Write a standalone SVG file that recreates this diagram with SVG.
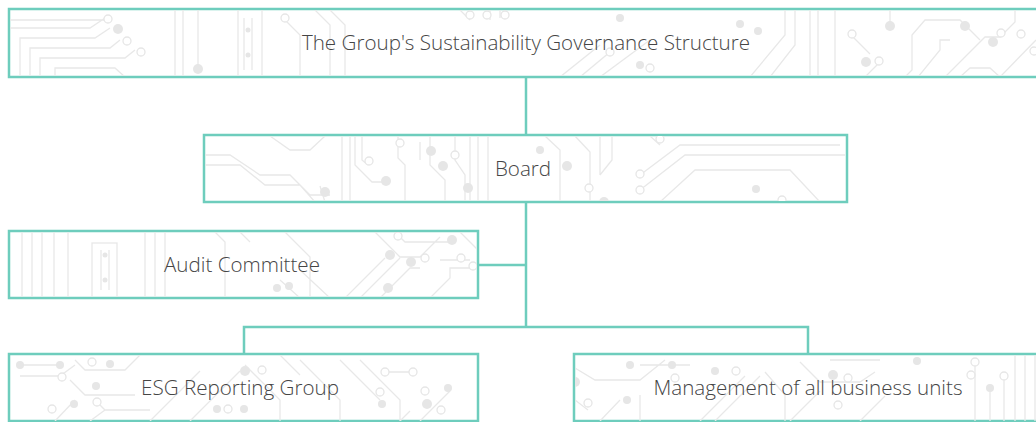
<svg xmlns="http://www.w3.org/2000/svg" width="1036" height="422" viewBox="0 0 1036 422">
<style>
.box{fill:#ffffff;stroke:#6ecdbd;stroke-width:2.5}
.con{fill:none;stroke:#6ecdbd;stroke-width:2.5}
.tr{fill:none;stroke:#e8e8e8;stroke-width:1.3}
.dot{fill:#e6e6e6}
.ring{fill:#ffffff;stroke:#e6e6e6;stroke-width:1.3}
.lbl{font-family:"Open Sans","Liberation Sans",sans-serif;font-weight:300;font-size:20.6px;fill:#454545;text-anchor:middle}
</style>
<defs>
<clipPath id="c1"><rect x="10" y="10" width="1030" height="66"/></clipPath>
<clipPath id="c2"><rect x="205" y="136" width="641" height="65"/></clipPath>
<clipPath id="c3"><rect x="10" y="232" width="467" height="65"/></clipPath>
<clipPath id="c4"><rect x="10" y="355" width="467" height="66"/></clipPath>
<clipPath id="c5"><rect x="575" y="355" width="465" height="66"/></clipPath>
</defs>

<g id="connectors">
<path class="con" d="M526 77 V135"/>
<path class="con" d="M526 202 V327"/>
<path class="con" d="M478 265 H526"/>
<path class="con" d="M244 354 V327 H808 V354"/>
</g>

<g id="node-structure">
<rect class="box" x="9" y="9" width="1040" height="68"/>
<g clip-path="url(#c1)">
<path class="tr" d="M10 20 H100 L110 20 M10 28 H90 L105 18 M20 77 V38 H95 L110 28 M30 77 V48 H110 L120 40 M40 77 V58 H125 L135 50 M55 77 V68 H115 L125 77"/>
<path class="tr" d="M175 10 V77 M183 10 V77 M198 10 V67 M238 10 V77 M262 10 V77"/>
<path class="tr" d="M285 20 L300 35 V77 M315 10 L330 25 V77 M330 10 L345 25 V77"/>
<circle class="ring" cx="108" cy="19" r="4"/><circle class="dot" cx="118" cy="29" r="5"/><circle class="ring" cx="127" cy="41" r="4"/><circle class="ring" cx="141" cy="52" r="4"/>
<circle class="dot" cx="198" cy="69" r="5"/><circle class="ring" cx="285" cy="18" r="4"/>
<path class="tr" d="M244 18 V70 M252 18 V70"/><circle class="dot" cx="248" cy="30" r="2.5"/><circle class="dot" cx="248" cy="55" r="2.5"/>
<path class="tr" d="M460 10 L470 20 M490 10 V20 M500 10 V18"/><circle class="ring" cx="470" cy="15" r="4"/><circle class="ring" cx="487" cy="15" r="4"/><circle class="ring" cx="505" cy="15" r="4"/><circle class="dot" cx="620" cy="18" r="4"/>
<path class="tr" d="M560 77 L600 45 M580 77 L610 52 M600 77 L650 40"/><circle class="ring" cx="610" cy="52" r="4"/><circle class="dot" cx="640" cy="65" r="4"/><circle class="ring" cx="650" cy="68" r="4"/>
<path class="tr" d="M750 77 L785 35 V10 M770 77 L795 45 V10 M810 10 V77 M818 10 V77 M835 10 V77"/>
<circle class="dot" cx="740" cy="24" r="4"/><circle class="dot" cx="758" cy="31" r="4"/>
<path class="tr" d="M852 36 L870 54 M865 77 L880 62"/><circle class="ring" cx="852" cy="34" r="4"/><circle class="dot" cx="866" cy="62" r="5"/><circle class="ring" cx="879" cy="61" r="4"/>
<path class="tr" d="M890 10 V26 M905 77 L912 70 V35 L925 20 H960 L980 40 M918 77 L940 50 V40 H950 M945 77 L985 37 H1000 L1015 22 V10 M1000 77 L1036 40 M960 77 L970 68 H990 L1000 77"/>
<circle class="dot" cx="890" cy="26" r="5"/><circle class="dot" cx="965" cy="26" r="5"/><circle class="ring" cx="1001" cy="33" r="4"/><circle class="dot" cx="993" cy="42" r="5"/><circle class="ring" cx="1021" cy="34" r="4"/><circle class="ring" cx="1034" cy="51" r="4"/>
</g>
<text class="lbl" x="526" y="50">The Group's Sustainability Governance Structure</text>
</g>

<g id="node-board">
<rect class="box" x="204" y="135" width="643" height="67"/>
<g clip-path="url(#c2)">
<path class="tr" d="M205 155 H230 L260 175 H290 L310 195 H330 M205 165 H240 L265 185 H300 L315 202 M270 136 L290 150 H310 L325 136 M320 186 L325 202"/>
<path class="tr" d="M342 136 V202 M350 136 V202 M355 136 V165 L372 182 H385 M362 136 V160 L368 165 M398 136 V158 L405 165 V202 M420 142 V160 M430 136 V165 L445 180 V202 M455 136 V160 L465 175 V202 M470 136 V202 M478 136 V202 M488 136 V202"/>
<circle class="dot" cx="325" cy="192" r="5"/><circle class="dot" cx="386" cy="181" r="5"/><circle class="ring" cx="369" cy="161" r="4"/><circle class="ring" cx="400" cy="143" r="4"/><circle class="dot" cx="431" cy="151" r="5"/><circle class="dot" cx="443" cy="166" r="5"/><circle class="ring" cx="455" cy="155" r="4"/><circle class="dot" cx="468" cy="188" r="5"/>
<path class="tr" d="M545 136 L560 150 V202 M575 136 L590 152 V202 M600 136 V175 M612 136 V160 L600 175"/>
<circle class="dot" cx="540" cy="150" r="4"/><circle class="dot" cx="567" cy="166" r="5"/><circle class="ring" cx="589" cy="188" r="4"/><circle class="dot" cx="604" cy="202" r="5"/>
<path class="tr" d="M640 175 L680 145 H840 M640 190 L685 155 H845 M660 202 L695 170 H790 L820 202 M650 136 L660 145"/>
<circle class="ring" cx="640" cy="174" r="4"/><circle class="ring" cx="640" cy="190" r="4"/><circle class="dot" cx="756" cy="189" r="4"/><circle class="ring" cx="782" cy="200" r="4"/><circle class="ring" cx="660" cy="139" r="4"/>
</g>
<text class="lbl" x="523" y="176">Board</text>
</g>

<g id="node-audit">
<rect class="box" x="9" y="231" width="469" height="67"/>
<g clip-path="url(#c3)">
<path class="tr" d="M22 232 V298 M32 232 V298 M42 232 V298 M54 232 V298 M68 232 V298"/>
<rect class="tr" x="92" y="243" width="25" height="56"/>
<path class="tr" d="M101 250 V290 M109 250 V290"/><circle class="dot" cx="105" cy="255" r="2.5"/><circle class="dot" cx="105" cy="280" r="2.5"/>
<path class="tr" d="M145 232 V298 M155 232 V298 M165 232 V298"/>
<path class="tr" d="M215 232 L225 242 V298 M240 232 L250 242 M285 232 L310 257 V298 M300 298 L280 280 M330 298 L300 270"/>
<path class="tr" d="M345 298 L385 258 M360 298 L400 258 M380 298 L410 268 H420 M375 232 L400 257 H420 L440 237 M395 232 L405 242 H455 M440 260 H470 M430 298 L450 278 V268 H470 M460 232 L478 250"/>
<circle class="dot" cx="277" cy="288" r="4"/><circle class="dot" cx="289" cy="286" r="4"/>
<circle class="dot" cx="390" cy="255" r="5"/><circle class="dot" cx="411" cy="262" r="5"/><circle class="ring" cx="425" cy="258" r="4"/><circle class="ring" cx="461" cy="258" r="4"/><circle class="dot" cx="452" cy="240" r="5"/><circle class="ring" cx="398" cy="236" r="4"/><circle class="ring" cx="473" cy="266" r="4"/><circle class="dot" cx="388" cy="288" r="5"/>
</g>
<text class="lbl" x="242" y="272">Audit Committee</text>
</g>

<g id="node-esg">
<rect class="box" x="9" y="354" width="469" height="67"/>
<g clip-path="url(#c4)">
<path class="tr" d="M20 365 H60 M20 376 H60 L75 365 M70 380 L85 395 H135 M75 360 L85 370 H125 L140 355 M55 421 L75 400 M95 400 L105 410 H150 M90 421 L105 410"/>
<circle class="dot" cx="20" cy="365" r="4"/><circle class="dot" cx="60" cy="365" r="4"/><circle class="ring" cx="62" cy="377" r="4"/><circle class="ring" cx="92" cy="362" r="4"/><circle class="dot" cx="110" cy="364" r="4"/><circle class="dot" cx="96" cy="386" r="4"/><circle class="ring" cx="97" cy="402" r="4"/><circle class="ring" cx="52" cy="409" r="4"/><circle class="dot" cx="74" cy="404" r="4"/>
<path class="tr" d="M150 421 L200 371 M190 421 L240 371 M245 365 L280 400 V421 M280 355 L300 375 M300 360 L340 400 V421 M340 360 L380 400 M360 360 L400 400 V421 M385 372 H410 M420 421 L450 391 M400 421 L410 411"/>
<circle class="dot" cx="245" cy="371" r="5"/><circle class="ring" cx="262" cy="370" r="4"/><circle class="dot" cx="217" cy="409" r="4"/><circle class="ring" cx="228" cy="409" r="4"/><circle class="dot" cx="244" cy="409" r="4"/><circle class="ring" cx="385" cy="372" r="4"/><circle class="ring" cx="413" cy="372" r="4"/><circle class="ring" cx="380" cy="392" r="4"/><circle class="dot" cx="448" cy="388" r="4"/><circle class="ring" cx="425" cy="391" r="4"/><circle class="dot" cx="427" cy="404" r="5"/><circle class="ring" cx="441" cy="410" r="4"/><circle class="dot" cx="382" cy="404" r="4"/>
</g>
<text class="lbl" x="240" y="395">ESG Reporting Group</text>
</g>

<g id="node-management">
<rect class="box" x="574" y="354" width="470" height="67"/>
<g clip-path="url(#c5)">
<path class="tr" d="M575 368 L595 380 H640 L665 360 M575 400 L588 410 M640 365 H690 M600 421 L620 400 M640 421 V395 M700 421 L745 376 M715 421 L760 376 M765 372 L785 395 V421 M790 421 L820 391 M800 362 L820 382 H860 L875 372 M830 360 H880 M860 421 L885 396"/>
<circle class="dot" cx="575" cy="382" r="5"/><circle class="dot" cx="630" cy="365" r="4"/><circle class="dot" cx="672" cy="365" r="4"/><circle class="ring" cx="675" cy="378" r="4"/><circle class="ring" cx="588" cy="403" r="4"/><circle class="dot" cx="627" cy="400" r="4"/><circle class="dot" cx="715" cy="371" r="4"/><circle class="ring" cx="736" cy="371" r="4"/><circle class="dot" cx="833" cy="375" r="5"/><circle class="ring" cx="848" cy="378" r="4"/><circle class="ring" cx="838" cy="405" r="4"/><circle class="dot" cx="917" cy="361" r="4"/><circle class="ring" cx="975" cy="362" r="4"/><circle class="ring" cx="971" cy="375" r="4"/><circle class="dot" cx="990" cy="388" r="4"/><circle class="ring" cx="1004" cy="376" r="4"/>
<path class="tr" d="M975 366 V421 M990 392 V421 M1004 380 V421 M1015 355 V421 M1025 355 V421 M1035 355 V421"/>
</g>
<text class="lbl" x="808" y="395">Management of all business units</text>
</g>
</svg>
